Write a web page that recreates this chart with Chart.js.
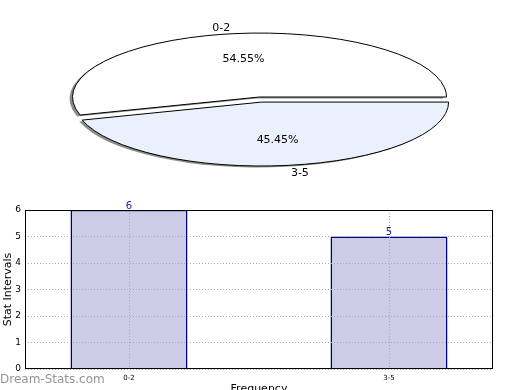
<!DOCTYPE html>
<html>
<head>
<meta charset="utf-8">
<title>Stat Intervals</title>
<script src="https://cdn.jsdelivr.net/npm/chart.js@4.4.0/dist/chart.umd.min.js"></script>
<style>
    html, body { margin: 0; padding: 0; background: #fff; overflow: hidden; width: 520px; height: 390px; }
    canvas { position: absolute; left: 0; top: 0; }
</style>
</head>
<body>
<canvas id="pieChart" width="520" height="390"></canvas>
<canvas id="barChart" width="520" height="400"></canvas>
<script>
// ===================================
// Data
// ===================================
const categories = ['0-2', '3-5'];
const counts = [6, 5];
const yTicks = [0, 1, 2, 3, 4, 5, 6];

// Styling
const sliceColors = ['#ffffff', '#eaf1fd'];
const explode = [0, 0.08];
const pieCenterY = 97;      // where the squashed pie sits
const squash = 0.342;       // vertical / horizontal radius

const total = counts.reduce((a, b) => a + b, 0);

Chart.defaults.font.family = '"DejaVu Sans", sans-serif';

// Pie drawn as a flat ellipse, with shadow and exploded slice
const ellipsePie = {
    id: 'ellipsePie',
    beforeDatasetDraw(chart, args) {
        const ctx = chart.ctx;
        const arcs = args.meta.data;
        const plainStroke = ctx.stroke;
        // outline keeps an even width after the squash
        ctx.stroke = function () {
            this.save();
            this.setTransform(1, 0, 0, 1, 0, 0);
            this.shadowColor = 'transparent';
            plainStroke.call(this);
            this.restore();
        };
        arcs.forEach((arc, i) => {
            const mid = (arc.startAngle + arc.endAngle) / 2;
            const d = explode[i] * arc.outerRadius;
            ctx.save();
            ctx.translate(arc.x, pieCenterY);
            ctx.scale(1, squash);
            ctx.translate(-arc.x, -arc.y);
            ctx.translate(Math.cos(mid) * d, Math.sin(mid) * d);
            ctx.shadowColor = 'rgba(0, 0, 0, 0.45)';
            ctx.shadowOffsetX = -3;
            ctx.shadowOffsetY = 1.5;
            ctx.shadowBlur = 0;
            arc.draw(ctx);
            ctx.restore();
        });
        delete ctx.stroke;
        return false;
    },
    afterDraw(chart) {
        const ctx = chart.ctx;
        const arcs = chart.getDatasetMeta(0).data;
        ctx.save();
        ctx.font = '11px "DejaVu Sans"';
        ctx.fillStyle = '#000';
        ctx.textBaseline = 'middle';
        arcs.forEach((arc, i) => {
            const mid = (arc.startAngle + arc.endAngle) / 2;
            const r = arc.outerRadius;
            const d = explode[i] * r;
            const cx = arc.x + Math.cos(mid) * d;
            const cy = pieCenterY + Math.sin(mid) * d * squash;
            ctx.textAlign = Math.cos(mid) > 0 ? 'left' : 'right';
            ctx.fillText(categories[i], cx + Math.cos(mid) * r * 1.1, cy + Math.sin(mid) * r * 1.1 * squash + 1);
            ctx.textAlign = 'center';
            const pct = (counts[i] / total * 100).toFixed(2) + '%';
            ctx.fillText(pct, cx + Math.cos(mid) * r * 0.6, cy + Math.sin(mid) * r * 0.6 * squash);
        });
        ctx.restore();
    }
};

// Frame, value labels and watermark for the bar chart
const barExtras = {
    id: 'barExtras',
    afterDraw(chart) {
        const ctx = chart.ctx;
        const a = chart.chartArea;
        ctx.save();
        ctx.strokeStyle = '#000';
        ctx.lineWidth = 1;
        ctx.strokeRect(a.left + 0.5, a.top + 0.5, a.right - a.left - 1, a.bottom - a.top - 1);

        ctx.font = '10px "DejaVu Sans"';
        ctx.fillStyle = '#1f1f99';
        ctx.textAlign = 'center';
        ctx.textBaseline = 'bottom';
        chart.getDatasetMeta(0).data.forEach((bar, i) => {
            ctx.fillText(String(counts[i]), bar.x, bar.y + 1);
        });

        ctx.font = '12px "DejaVu Sans"';
        ctx.fillStyle = '#959595';
        ctx.textAlign = 'left';
        ctx.textBaseline = 'middle';
        ctx.fillText('Dream-Stats.com', 0, 380);
        ctx.restore();
    }
};

new Chart(document.getElementById('pieChart'), {
    type: 'pie',
    data: {
        labels: categories,
        datasets: [{
            data: counts,
            backgroundColor: sliceColors,
            borderColor: '#000',
            borderWidth: 1,
            borderJoinStyle: 'miter'
        }]
    },
    options: {
        responsive: false,
        animation: false,
        devicePixelRatio: 1,
        events: [],
        // first slice runs counter-clockwise from 3 o'clock
        rotation: 90 + 360 * (total - counts[0]) / total,
        layout: { padding: { left: 72, right: 73, top: 0, bottom: 15 } },
        plugins: { legend: { display: false }, tooltip: { enabled: false } }
    },
    plugins: [ellipsePie]
});

const gridStyle = { color: '#aaaaaa', lineWidth: 1, drawTicks: false, offset: false, z: 1 };
// axis lines come from the frame plugin; border only carries the dotted grid
const borderStyle = { display: false, dash: [1, 2] };

new Chart(document.getElementById('barChart'), {
    type: 'bar',
    data: {
        datasets: [{
            data: counts.map((v, i) => ({ x: i, y: v })),
            backgroundColor: '#ccccE6',
            borderColor: '#000080',
            borderWidth: 1.5,
            borderSkipped: 'start',
            barPercentage: 0.45,
            categoryPercentage: 1
        }]
    },
    options: {
        responsive: false,
        animation: false,
        devicePixelRatio: 1,
        events: [],
        layout: { padding: { left: 0, top: 210, right: 27, bottom: 0 } },
        scales: {
            x: {
                type: 'linear',
                offset: false,
                min: -0.4,
                max: 1.4,
                afterFit(scale) { scale.height = 31; },
                afterBuildTicks(scale) { scale.ticks = categories.map((c, i) => ({ value: i })); },
                ticks: {
                    callback: value => categories[value],
                    font: { size: 7 },
                    color: '#000',
                    padding: 5,
                    autoSkip: false,
                    maxRotation: 0
                },
                grid: gridStyle,
                border: borderStyle,
                title: { display: true, text: 'Frequency', font: { size: 11 }, color: '#000' }
            },
            y: {
                min: 0,
                max: 6,
                afterFit(scale) { scale.width = 25; },
                afterBuildTicks(scale) { scale.ticks = yTicks.map(v => ({ value: v })); },
                ticks: { font: { size: 9 }, color: '#000', padding: 4 },
                grid: gridStyle,
                border: borderStyle,
                title: {
                    display: true,
                    text: 'Stat Intervals',
                    font: { size: 11 },
                    color: '#000',
                    padding: { top: 2, bottom: 0 }
                }
            }
        },
        plugins: { legend: { display: false }, tooltip: { enabled: false } }
    },
    plugins: [barExtras]
});
</script>
</body>
</html>
